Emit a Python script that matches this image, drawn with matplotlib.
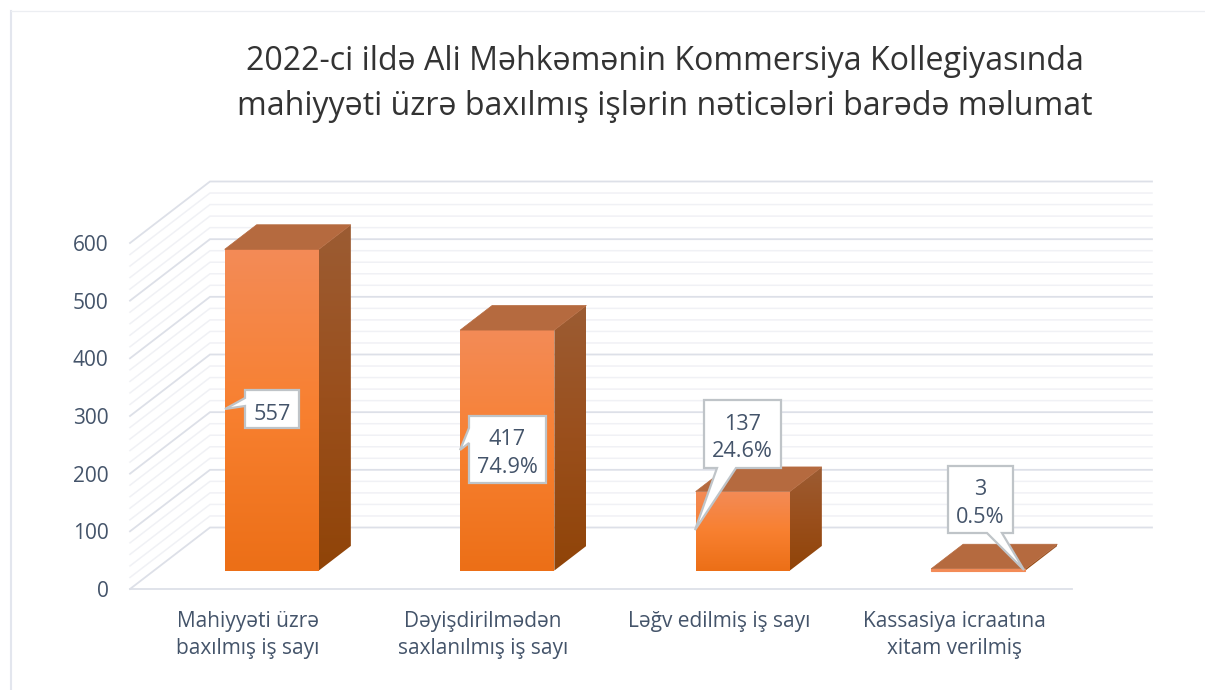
import numpy as np
import matplotlib
matplotlib.use("Agg")
import matplotlib.pyplot as plt
from matplotlib.colors import LinearSegmentedColormap
from matplotlib.lines import Line2D
from matplotlib.patches import Polygon
from matplotlib.transforms import Affine2D

categories = [
    "Mahiyyəti üzrə\nbaxılmış iş sayı",
    "Dəyişdirilmədən\nsaxlanılmış iş sayı",
    "Ləğv edilmiş iş sayı",
    "Kassasiya icraatına\nxitam verilmiş",
]
values = [557, 417, 137, 3]
bar_labels = ["557", "417\n74.9%", "137\n24.6%", "3\n0.5%"]
title_text = "2022-ci ildə Ali Məhkəmənin Kommersiya Kollegiyasında\nmahiyyəti üzrə baxılmış işlərin nəticələri barədə məlumat"

W, H = 1205, 690
FONT = "Open Sans"
TXT = "#44546A"
GRID_MAJOR = "#DDE0E8"
GRID_MINOR = "#F0F1F5"

plt.rcParams["font.family"] = [FONT, "DejaVu Sans"]

fig = plt.figure(figsize=(W / 100, H / 100), dpi=100, facecolor="white")
ax = fig.add_axes([130 / W, (H - 589) / H, 942 / W, 346 / H])
ax.set_xlim(-0.5, 3.5)
ax.set_ylim(0, 600)

# fake 3d: depth 0 is the front of the floor, depth 1 the back wall
DX = 80 / 235.5
DY = 61.5 / (346 / 600)
BAR_W = 0.4
D0, D1 = 0.3, 0.7

# picture pixels, y down, for the chart furniture
px = Affine2D().scale(1 / W, -1 / H).translate(0, 1) + fig.transFigure


def proj(x, v, d):
    return x + DX * d, v + DY * d


front_cmap = LinearSegmentedColormap.from_list("front", ["#F38B57", "#F88030", "#EC6F17"])
side_cmap = LinearSegmentedColormap.from_list("side", ["#9C5C33", "#9A4F1C", "#904408"])


def gradient_face(pts, cmap):
    pts = np.array(pts)
    clip = Polygon(pts, closed=True, transform=ax.transData, facecolor="none", edgecolor="none")
    ax.add_patch(clip)
    clip.set_clip_on(False)
    grad = np.linspace(0, 1, 128).reshape(-1, 1)
    ext = (pts[:, 0].min(), pts[:, 0].max(), pts[:, 1].min(), pts[:, 1].max())
    im = ax.imshow(grad, cmap=cmap, extent=ext, origin="upper", aspect="auto",
                   interpolation="bilinear", zorder=3)
    im.set_clip_path(clip)
    im.set_clip_box(fig.bbox)


# walls
for v in np.arange(0, 601, 20):
    major = v % 100 == 0
    col = GRID_MAJOR if major else GRID_MINOR
    lw = 1.3 if major else 1.1
    xa, ya = proj(-0.5, v, 0)
    xb, yb = proj(-0.5, v, 1)
    xc, yc = proj(3.5, v, 1)
    ax.plot([xa, xb, xc], [ya, yb, yc], color=col, lw=lw, clip_on=False, zorder=1,
            solid_joinstyle="miter")

# bars
for i, val in enumerate(values):
    l, r = i - BAR_W / 2, i + BAR_W / 2
    front = [proj(l, 0, D0), proj(r, 0, D0), proj(r, val, D0), proj(l, val, D0)]
    side = [proj(r, 0, D0), proj(r, 0, D1), proj(r, val, D1), proj(r, val, D0)]
    top = [proj(l, val, D0), proj(r, val, D0), proj(r, val, D1), proj(l, val, D1)]
    gradient_face(front, front_cmap)
    gradient_face(side, side_cmap)
    ax.add_patch(Polygon(top, closed=True, facecolor="#B56A3F", edgecolor="#B56A3F", lw=0.5,
                         zorder=3.5, clip_on=False))
    if val < 10:
        ax.add_patch(Polygon(front, closed=True, facecolor="#F38B57", edgecolor="#F38B57", lw=0.8,
                             zorder=3.6, clip_on=False))

ax.set_xticks(range(len(categories)))
ax.set_xticklabels(categories, fontsize=15, color=TXT, linespacing=1.42, va="top")
ax.set_yticks(np.arange(0, 601, 100))
ax.tick_params(axis="x", length=0, pad=15.5)
ax.tick_params(axis="y", length=0, pad=15.5, labelsize=15, labelcolor=TXT)
for s in ["top", "left", "right"]:
    ax.spines[s].set_visible(False)
ax.spines["bottom"].set_color(GRID_MAJOR)
ax.spines["bottom"].set_linewidth(1.3)
ax.patch.set_alpha(0)

# callouts: box left, right, top, bottom, then tip and where the tail joins the box
callouts = [
    (245, 299, 390, 428, (225, 409), "left", 398, 406),
    (469, 546, 416, 483, (460, 450), "left", 428, 443),
    (704, 781, 400, 468, (695, 530), "bottom", 717, 736),
    (948, 1013, 466, 533, (1024, 570), "bottom", 987, 1002),
]
for (x0, x1, y0, y1, tip, where, a, b), lab in zip(callouts, bar_labels):
    if where == "left":
        pts = [(x0, y0), (x1, y0), (x1, y1), (x0, y1), (x0, b), tip, (x0, a)]
    else:
        pts = [(x0, y0), (x1, y0), (x1, y1), (b, y1), tip, (a, y1), (x0, y1)]
    fig.add_artist(Polygon(pts, closed=True, transform=px, facecolor="white",
                           edgecolor="#BFC4C8", lw=1.6, joinstyle="miter", zorder=6))
    # open sans sits high in its box, nudge down a bit
    nudge = 4 if "\n" in lab else 6
    fig.text((x0 + x1) / 2 / W, 1 - ((y0 + y1) / 2 + nudge) / H, lab, ha="center", va="center",
             fontsize=15.6, color=TXT, linespacing=1.38, zorder=7)

fig.text(665 / W, 1 - 84 / H, title_text, ha="center", va="center", fontsize=23.1,
         color="#333333", linespacing=1.5)

# outer frame of the slide
fig.add_artist(Line2D([11, 11], [11, H], transform=px, color="#E3E6EE", lw=1.5))
fig.add_artist(Line2D([11, W], [11, 11], transform=px, color="#ECEEF2", lw=0.9))

fig.savefig("out.png", dpi=100)
